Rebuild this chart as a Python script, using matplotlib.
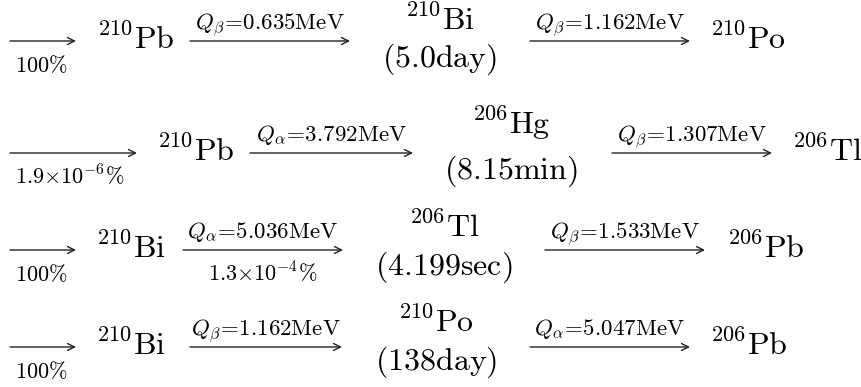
import matplotlib
matplotlib.use("Agg")
import matplotlib.pyplot as plt

plt.rcParams['mathtext.fontset'] = 'cm'
plt.rcParams['font.family'] = ['DejaVu Serif']

# ---- data (one list per column of the decay table) ----
entry_ratio = [r"100\%", r"1.9{\times}10^{-6}\%", r"100\%", r"100\%"]
parents = [r"{}^{210}\mathrm{Pb}", r"{}^{210}\mathrm{Pb}", r"{}^{210}\mathrm{Bi}", r"{}^{210}\mathrm{Bi}"]
q_first = [r"Q_{\beta}\!=\!0.635\mathrm{MeV}", r"Q_{\alpha}\!=\!3.792\mathrm{MeV}",
           r"Q_{\alpha}\!=\!5.036\mathrm{MeV}", r"Q_{\beta}\!=\!1.162\mathrm{MeV}"]
first_ratio = [None, None, r"1.3{\times}10^{-4}\%", None]
intermediates = [r"{}^{210}\mathrm{Bi}", r"{}^{206}\mathrm{Hg}", r"{}^{206}\mathrm{Tl}", r"{}^{210}\mathrm{Po}"]
half_lives = [r"(5.0\mathrm{day})", r"(8.15\mathrm{min})", r"(4.199\mathrm{sec})", r"(138\mathrm{day})"]
q_second = [r"Q_{\beta}\!=\!1.162\mathrm{MeV}", r"Q_{\beta}\!=\!1.307\mathrm{MeV}",
            r"Q_{\beta}\!=\!1.533\mathrm{MeV}", r"Q_{\alpha}\!=\!5.047\mathrm{MeV}"]
daughters = [r"{}^{210}\mathrm{Po}", r"{}^{206}\mathrm{Tl}", r"{}^{206}\mathrm{Pb}", r"{}^{206}\mathrm{Pb}"]

# ---- layout (pixel coordinates) ----
arrow_y = [41, 153, 250, 347]
a1 = [(10, 76), (10, 137), (10, 76), (10, 76)]
parent_x = [97, 157, 96, 96]
a2 = [(190, 350), (250, 413), (183, 343), (190, 342)]
mid_x = [440, 511, 444, 436]
mid_dy = [-11, -19, -13, -15]
half_dy = [26, 26, 25, 23]
a3 = [(530, 690), (612, 772), (545, 705), (530, 690)]
dau_x = [710, 792, 727, 710]

BIG = 23
SMALL = 16.5
RATIO = 16

fig = plt.figure(figsize=(8.61, 3.87), dpi=100)
ax = fig.add_axes([0, 0, 1, 1])
ax.set_xlim(0, 861)
ax.set_ylim(387, 0)
ax.axis('off')


def arrow(x0, x1, y):
    ax.annotate("", xy=(x1, y), xytext=(x0, y),
                arrowprops=dict(arrowstyle="->,head_length=0.5,head_width=0.25",
                                lw=1.0, color="#222222", shrinkA=0, shrinkB=0))


for i in range(4):
    y = arrow_y[i]
    # entry arrow
    arrow(a1[i][0], a1[i][1], y)
    ax.text(a1[i][0] + 5, y + 31, "$" + entry_ratio[i] + "$", fontsize=RATIO,
            ha='left', va='baseline')
    # parent
    ax.text(parent_x[i], y + 8, "$" + parents[i] + "$", fontsize=BIG, ha='left', va='baseline')
    # first decay
    arrow(a2[i][0], a2[i][1], y)
    ax.text((a2[i][0] + a2[i][1]) / 2, y - 12, "$" + q_first[i] + "$", fontsize=SMALL,
            ha='center', va='baseline')
    if first_ratio[i]:
        ax.text((a2[i][0] + a2[i][1]) / 2, y + 31, "$" + first_ratio[i] + "$",
                fontsize=RATIO, ha='center', va='baseline')
    # intermediate nucleus and half-life
    ax.text(mid_x[i], y + mid_dy[i], "$" + intermediates[i] + "$", fontsize=BIG,
            ha='center', va='baseline')
    ax.text(mid_x[i], y + half_dy[i], "$" + half_lives[i] + "$", fontsize=BIG,
            ha='center', va='baseline')
    # second decay
    arrow(a3[i][0], a3[i][1], y)
    ax.text((a3[i][0] + a3[i][1]) / 2, y - 12, "$" + q_second[i] + "$", fontsize=SMALL,
            ha='center', va='baseline')
    ax.text(dau_x[i], y + 8, "$" + daughters[i] + "$", fontsize=BIG, ha='left', va='baseline')

fig.savefig("out.png", dpi=100, facecolor="white")
